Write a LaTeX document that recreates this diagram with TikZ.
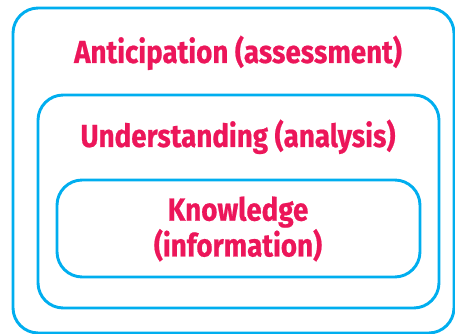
\documentclass[tikz,border=0pt]{standalone}
\usepackage{fontspec}
\newfontfamily\condfont[FakeStretch=0.87,FakeBold=0.6]{Fira Sans Bold}
\definecolor{boxcyan}{RGB}{0,174,239}
\definecolor{textpink}{RGB}{236,22,90}
\begin{document}
\begin{tikzpicture}[scale=0.026458]
\tikzstyle{every node}+=[inner sep=0pt]
\tikzstyle{levelbox}=[draw=boxcyan,line width=2.2pt,rounded corners=19pt]
\tikzstyle{leveltext}=[text=textpink,font=\condfont\fontsize{24}{22}\selectfont,align=center]
\useasboundingbox (0,0) rectangle (455,-334);
\draw[levelbox] (13,-8) rectangle (454,-333);
\draw[levelbox] (38,-95) rectangle (439,-308);
\draw[levelbox] (57,-180) rectangle (420,-277);
\node[leveltext,anchor=base] (anticipation) at (238,-63) {Anticipation (assessment)};
\node[leveltext,anchor=base] (understanding) at (238,-147) {Understanding (analysis)};
\node[leveltext] (knowledge) at (238,-229) {Knowledge\\(information)};
\end{tikzpicture}
\end{document}
